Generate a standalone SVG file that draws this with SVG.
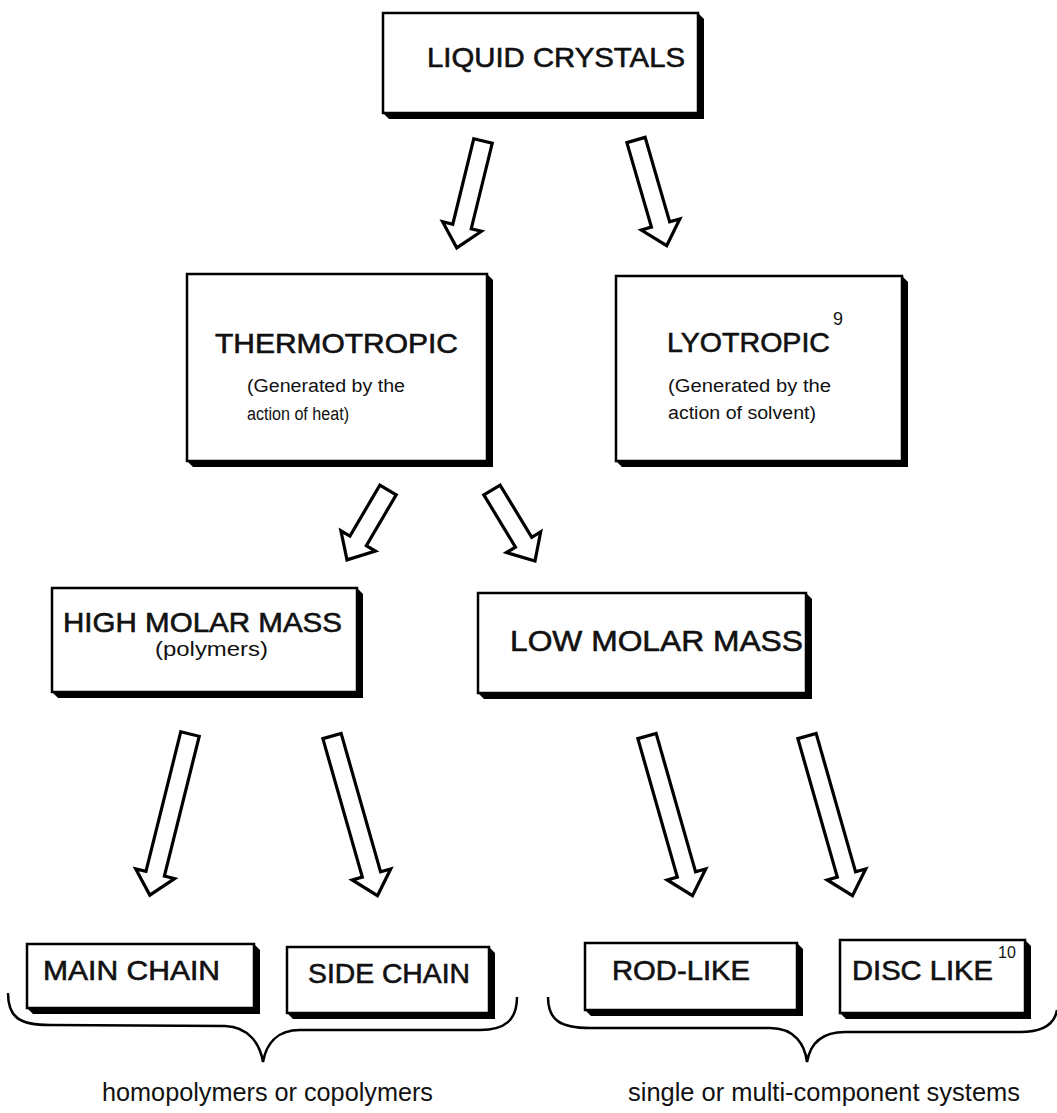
<svg xmlns="http://www.w3.org/2000/svg" width="1057" height="1113" viewBox="0 0 1057 1113">
<defs>
<style>
.box{fill:#fff;stroke:#000;stroke-width:2.5}
.sh{fill:#000}
.cap{font-family:"Liberation Sans",Arial,sans-serif;font-size:28px;fill:#111;stroke:#111;stroke-width:0.6}
.sub{font-family:"Liberation Sans",Arial,sans-serif;font-size:18px;fill:#111}
.lbl{font-family:"Liberation Sans",Arial,sans-serif;font-size:25px;fill:#111}
.arr{fill:#fff;stroke:#000;stroke-width:3.2;stroke-linejoin:miter}
.brace{fill:none;stroke:#000;stroke-width:2.5}
</style>
<polygon id="a81" class="arr" points="-9.5,0 9.5,0 9.5,59 20,59 0,81 -20,59 -9.5,59"/>
<polygon id="a83" class="arr" points="-9.5,0 9.5,0 9.5,61 20,61 0,83 -20,61 -9.5,61"/>
<polygon id="a110" class="arr" points="-9.5,0 9.5,0 9.5,88 20,88 0,110 -20,88 -9.5,88"/>
<polygon id="a166" class="arr" points="-9.5,0 9.5,0 9.5,144 20,144 0,166 -20,144 -9.5,144"/>
</defs>
<rect width="1057" height="1113" fill="#fff"/>

<g id="connectors">
<use href="#a110" transform="translate(483,141) rotate(13.8)"/>
<use href="#a110" transform="translate(636,140) rotate(-16.2)"/>
<use href="#a81" transform="translate(388,490) rotate(30.4)"/>
<use href="#a83" transform="translate(492,490) rotate(-31.2)"/>
<use href="#a166" transform="translate(190,734) rotate(14)"/>
<use href="#a166" transform="translate(332,736) rotate(-15.9)"/>
<use href="#a166" transform="translate(647,736) rotate(-15.9)"/>
<use href="#a166" transform="translate(807,736) rotate(-15.9)"/>
<path class="brace" d="M 8 993 C 8 1018, 20 1025, 50 1025 L 225 1026 C 250 1027, 260 1045, 263 1062 C 266 1045, 276 1030, 300 1030 L 480 1030 C 505 1030, 517 1020, 517 997"/>
<path class="brace" d="M 548 997 C 548 1020, 560 1028, 590 1028 L 770 1028 C 795 1028, 805 1045, 807 1062 C 810 1045, 820 1032, 845 1032 L 1020 1032 C 1045 1032, 1055 1022, 1057 1010"/>
</g>

<g id="liquid-crystals">
<polygon class="sh" points="698,13 704,19 704,119 389,119 383,113"/>
<rect class="box" x="383" y="13" width="315" height="100"/>
<text class="cap" x="427" y="67" textLength="258" lengthAdjust="spacingAndGlyphs">LIQUID  CRYSTALS</text>
</g>

<g id="thermotropic">
<polygon class="sh" points="487,274 493,280 493,467 193,467 187,461"/>
<rect class="box" x="187" y="274" width="300" height="187"/>
<text class="cap" x="215" y="353" textLength="243" lengthAdjust="spacingAndGlyphs">THERMOTROPIC</text>
<text class="sub" x="247" y="392" textLength="158" lengthAdjust="spacingAndGlyphs">(Generated by the</text>
<text class="sub" x="247" y="420" textLength="102" lengthAdjust="spacingAndGlyphs">action of heat)</text>
</g>

<g id="lyotropic">
<polygon class="sh" points="902,276 908,282 908,467 622,467 616,461"/>
<rect class="box" x="616" y="276" width="286" height="185"/>
<text class="cap" x="667" y="352" textLength="163" lengthAdjust="spacingAndGlyphs">LYOTROPIC</text>
<text class="sub" x="833" y="325">9</text>
<text class="sub" x="668" y="392" textLength="163" lengthAdjust="spacingAndGlyphs">(Generated by the</text>
<text class="sub" x="668" y="419" textLength="148" lengthAdjust="spacingAndGlyphs">action of solvent)</text>
</g>

<g id="high-molar-mass">
<polygon class="sh" points="357,588 363,594 363,698 58,698 52,692"/>
<rect class="box" x="52" y="588" width="305" height="104"/>
<text class="cap" x="63" y="632" textLength="279" lengthAdjust="spacingAndGlyphs">HIGH MOLAR MASS</text>
<text class="lbl" x="155" y="656" style="font-size:20px" textLength="113" lengthAdjust="spacingAndGlyphs">(polymers)</text>
</g>

<g id="low-molar-mass">
<polygon class="sh" points="806,593 812,599 812,699 484,699 478,693"/>
<rect class="box" x="478" y="593" width="328" height="100"/>
<text class="cap" x="510" y="651" style="font-size:30px" textLength="293" lengthAdjust="spacingAndGlyphs">LOW MOLAR MASS</text>
</g>

<g id="main-chain">
<polygon class="sh" points="254,944 260,950 260,1014 33,1014 27,1008"/>
<rect class="box" x="27" y="944" width="227" height="64"/>
<text class="cap" x="43" y="980" textLength="177" lengthAdjust="spacingAndGlyphs">MAIN CHAIN</text>
</g>

<g id="side-chain">
<polygon class="sh" points="489,947 495,953 495,1019 293,1019 287,1013"/>
<rect class="box" x="287" y="947" width="202" height="66"/>
<text class="cap" x="308" y="983" textLength="162" lengthAdjust="spacingAndGlyphs">SIDE CHAIN</text>
</g>

<g id="rod-like">
<polygon class="sh" points="797,943 803,949 803,1016 591,1016 585,1010"/>
<rect class="box" x="585" y="943" width="212" height="67"/>
<text class="cap" x="612" y="980" textLength="138" lengthAdjust="spacingAndGlyphs">ROD-LIKE</text>
</g>

<g id="disc-like">
<polygon class="sh" points="1025,940 1031,946 1031,1019 846,1019 840,1013"/>
<rect class="box" x="840" y="940" width="185" height="73"/>
<text class="cap" x="852" y="980" textLength="141" lengthAdjust="spacingAndGlyphs">DISC LIKE</text>
<text class="sub" x="998" y="958" style="font-size:16px">10</text>
</g>

<g id="captions">
<text class="lbl" x="102" y="1101" textLength="331" lengthAdjust="spacingAndGlyphs">homopolymers or copolymers</text>
<text class="lbl" x="628" y="1101" textLength="392" lengthAdjust="spacingAndGlyphs">single or multi-component systems</text>
</g>
</svg>
